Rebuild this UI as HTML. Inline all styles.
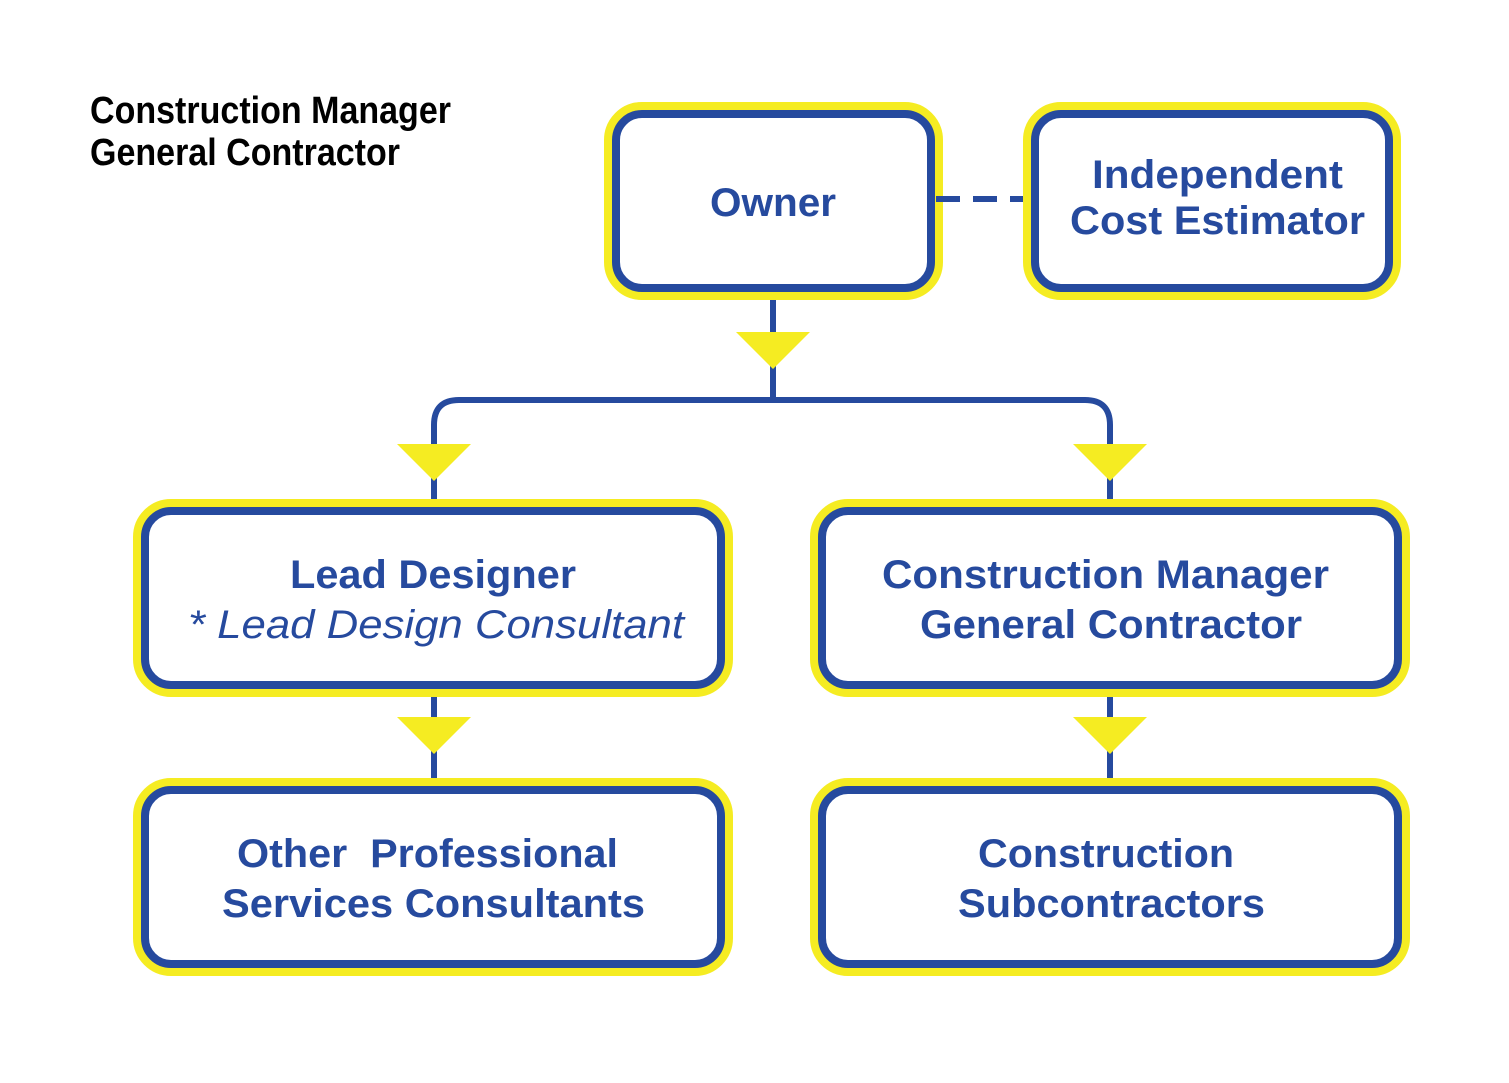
<!DOCTYPE html>
<html><head><meta charset="utf-8"><style>
html,body{margin:0;padding:0;background:#fff;}
svg{display:block;}
text{font-family:"Liberation Sans",sans-serif;font-size:40px;font-weight:bold;fill:#264a9e;}
</style></head><body>
<svg width="1509" height="1083" viewBox="0 0 1509 1083" xmlns="http://www.w3.org/2000/svg">
<g stroke-linejoin="round">
  <g stroke="#f5ec22" stroke-width="24" fill="none">
    <rect x="616" y="114" width="315" height="174" rx="26"/>
    <rect x="1035" y="114" width="354" height="174" rx="26"/>
    <rect x="145" y="511" width="576" height="174" rx="26"/>
    <rect x="822" y="511" width="576" height="174" rx="26"/>
    <rect x="145" y="790" width="576" height="174" rx="26"/>
    <rect x="822" y="790" width="576" height="174" rx="26"/>
  </g>
  <g stroke="#264a9e" stroke-width="8" fill="#fff">
    <rect x="616" y="114" width="315" height="174" rx="26"/>
    <rect x="1035" y="114" width="354" height="174" rx="26"/>
    <rect x="145" y="511" width="576" height="174" rx="26"/>
    <rect x="822" y="511" width="576" height="174" rx="26"/>
    <rect x="145" y="790" width="576" height="174" rx="26"/>
    <rect x="822" y="790" width="576" height="174" rx="26"/>
  </g>
  <g stroke="#264a9e" stroke-width="6" fill="none">
    <line x1="773" y1="300" x2="773" y2="400"/>
    <path d="M434 499 V425 Q434 400 459 400 H1085 Q1110 400 1110 425 V499"/>
    <line x1="434" y1="697" x2="434" y2="778"/>
    <line x1="1110" y1="697" x2="1110" y2="778"/>
    <line x1="936" y1="199" x2="1023" y2="199" stroke-dasharray="24,13"/>
  </g>
</g>
<g fill="#f5ec22">
  <polygon points="736,332 810,332 773,369"/>
  <polygon points="397,444 471,444 434,481"/>
  <polygon points="1073,444 1147,444 1110,481"/>
  <polygon points="397,717 471,717 434,754"/>
  <polygon points="1073,717 1147,717 1110,754"/>
</g>
<text x="90" y="123" textLength="361" lengthAdjust="spacingAndGlyphs" style="fill:#000;font-size:38px">Construction Manager</text>
<text x="90" y="165" textLength="310" lengthAdjust="spacingAndGlyphs" style="fill:#000;font-size:38px">General Contractor</text>
<text x="710" y="216" textLength="126" lengthAdjust="spacingAndGlyphs">Owner</text>
<text x="1092" y="188" textLength="251" lengthAdjust="spacingAndGlyphs">Independent</text>
<text x="1070" y="234" textLength="295" lengthAdjust="spacingAndGlyphs">Cost Estimator</text>
<text x="290" y="588" textLength="286" lengthAdjust="spacingAndGlyphs">Lead Designer</text>
<text x="188" y="638" textLength="496" lengthAdjust="spacingAndGlyphs" style="font-style:italic;font-weight:normal">* Lead Design Consultant</text>
<text x="882" y="588" textLength="447" lengthAdjust="spacingAndGlyphs">Construction Manager</text>
<text x="920" y="638" textLength="382" lengthAdjust="spacingAndGlyphs">General Contractor</text>
<text x="237" y="867" textLength="381" lengthAdjust="spacingAndGlyphs" xml:space="preserve">Other  Professional</text>
<text x="222" y="917" textLength="423" lengthAdjust="spacingAndGlyphs">Services Consultants</text>
<text x="978" y="867" textLength="256" lengthAdjust="spacingAndGlyphs">Construction</text>
<text x="958" y="917" textLength="307" lengthAdjust="spacingAndGlyphs">Subcontractors</text>
</svg>
</body></html>
